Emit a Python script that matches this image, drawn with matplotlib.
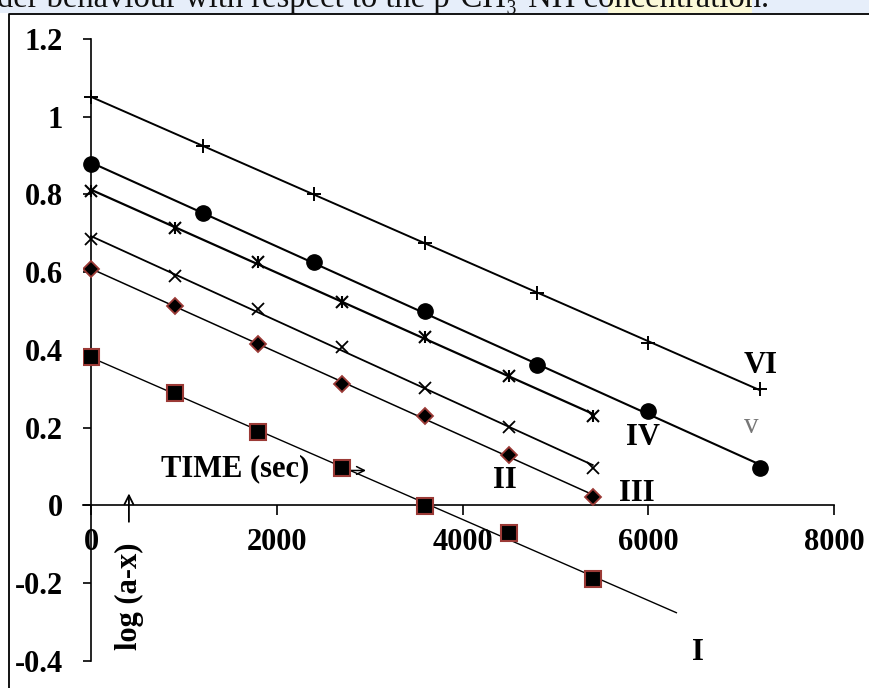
import numpy as np
import matplotlib.pyplot as plt
from matplotlib.lines import Line2D
from matplotlib.patches import Rectangle

plt.rcParams['font.family'] = ['Liberation Serif', 'DejaVu Serif']
plt.rcParams['axes.unicode_minus'] = False

# time (sec) and log(a-x) for each run
t_short = [0, 900, 1800, 2700, 3600, 4500, 5400]
t_long = [0, 1200, 2400, 3600, 4800, 6000, 7200]

run_I = [0.382, 0.289, 0.190, 0.096, -0.002, -0.071, -0.189]
run_II = [0.608, 0.513, 0.414, 0.313, 0.229, 0.130, 0.021]
run_III = [0.685, 0.590, 0.506, 0.407, 0.302, 0.202, 0.096]
run_IV = [0.808, 0.714, 0.626, 0.523, 0.433, 0.333, 0.230]
run_V = [0.878, 0.751, 0.625, 0.499, 0.362, 0.243, 0.096]
run_VI = [1.051, 0.925, 0.800, 0.674, 0.547, 0.419, 0.299]

y_ticks = [-0.4, -0.2, 0, 0.2, 0.4, 0.6, 0.8, 1, 1.2]
y_labels = ['-0.4', '-0.2', '0', '0.2', '0.4', '0.6', '0.8', '1', '1.2']
x_ticks = [0, 2000, 4000, 6000, 8000]
x_labels = ['0', '2000', '4000', '6000', '8000']

fig = plt.figure(figsize=(8.69, 6.88), dpi=100)

# scanned page bits around the chart
fig.patches.append(Rectangle((0, 0.981), 1, 0.02, transform=fig.transFigure,
                             facecolor='#e6eefa', edgecolor='none', zorder=0))
fig.patches.append(Rectangle((0.70, 0.981), 0.165, 0.02, transform=fig.transFigure,
                             facecolor='#fbf9d8', edgecolor='none', zorder=0))
fig.text(-0.004, 0.990, 'der behaviour with respect to the p-CH\u2083-NH concentration.',
         fontsize=23.5, ha='left', va='baseline', color='#111111')
fig.lines.append(Line2D([9 / 869, 9 / 869, 1.0], [0.0, 1 - 14 / 688, 1 - 14 / 688],
                        transform=fig.transFigure, color='black', lw=1.3))

ax = fig.add_axes([0.0951, 0.0392, 0.8650, 0.9044])
ax.set_xlim(-90, 8000)
ax.set_ylim(-0.4, 1.2)

ax.spines['left'].set_position(('data', 0))
ax.spines['bottom'].set_position(('data', 0))
ax.spines['top'].set_visible(False)
ax.spines['right'].set_visible(False)
for s in ('left', 'bottom'):
    ax.spines[s].set_linewidth(1.2)

ax.set_yticks(y_ticks)
ax.set_yticklabels(y_labels, fontsize=22, fontweight='bold')
ax.set_xticks(x_ticks)
ax.set_xticklabels(x_labels, fontsize=22, fontweight='bold')
ax.tick_params(axis='y', direction='out', length=6, width=1.2, pad=14)
ax.tick_params(axis='x', direction='out', length=7, width=1.2, pad=9)

red_edge = '#9b3a36'

def fit_line(t, v, t_end, lw):
    k, b = np.polyfit(t, v, 1)
    xx = np.array([t[0], t_end])
    ax.plot(xx, k * xx + b, color='black', lw=lw, zorder=2)

fit_line(t_short, run_I, 6300, 1.0)
fit_line(t_short, run_II, t_short[-1], 1.1)
fit_line(t_short, run_III, t_short[-1], 1.3)
fit_line(t_short, run_IV, t_short[-1], 1.6)
fit_line(t_long, run_V, t_long[-1], 1.5)
fit_line(t_long, run_VI, t_long[-1], 1.4)

ax.plot(t_short, run_I, ls='none', marker='s', ms=11, mfc='black', mec=red_edge, mew=1.5, zorder=4)
ax.plot(t_short, run_II, ls='none', marker='D', ms=8.5, mfc='black', mec=red_edge, mew=1.3, zorder=4)
ax.plot(t_short, run_III, ls='none', marker='x', ms=9, mec='black', mew=1.3, zorder=4)
ax.plot(t_short, run_IV, ls='none', marker='x', ms=9, mec='black', mew=1.5, zorder=4)
ax.plot(t_short, run_IV, ls='none', marker='|', ms=9, mec='black', mew=1.5, zorder=4)
ax.plot(t_long, run_V, ls='none', marker='o', ms=11, mfc='black', mec='black', zorder=4)
ax.plot(t_long, run_VI, ls='none', marker='+', ms=10, mec='black', mew=1.4, zorder=4)

lab = dict(fontsize=22, fontweight='bold', ha='center', va='center', zorder=5)
ax.text(7208, 0.360, 'VI', **lab)
ax.text(7111, 0.205, 'v', fontsize=21, color='#777777', ha='center', va='center')
ax.text(5938, 0.174, 'IV', **lab)
ax.text(4456, 0.064, 'II', **lab)
ax.text(5877, 0.031, 'III', **lab)
ax.text(6533, -0.378, 'I', **lab)

ax.text(1550, 0.095, 'TIME (sec)', **lab)
ax.annotate('', xy=(2960, 0.090), xytext=(2700, 0.090),
            arrowprops=dict(arrowstyle='->', color='black', lw=1.1,
                            shrinkA=0, shrinkB=0, mutation_scale=14), zorder=1)
ax.text(409, -0.234, 'log (a-x)', fontsize=22, fontweight='bold', rotation=90,
        ha='center', va='center')
ax.annotate('', xy=(408, 0.031), xytext=(408, -0.042),
            arrowprops=dict(arrowstyle='->', color='black', lw=1.3,
                            shrinkA=0, shrinkB=0, mutation_scale=16))

plt.savefig('out.png', dpi=100)
plt.close()
